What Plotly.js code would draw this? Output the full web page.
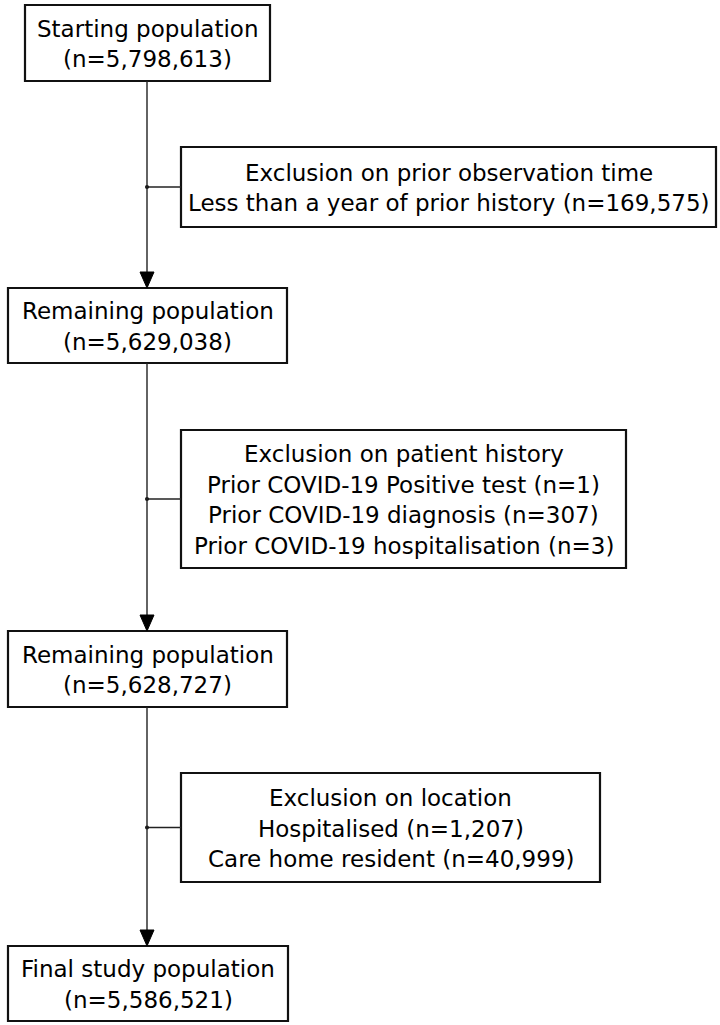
<!DOCTYPE html>
<html>
<head>
<meta charset="utf-8">
<script src="https://cdn.plot.ly/plotly-3.0.1.min.js"></script>
<style>html,body{margin:0;padding:0;background:#fff;}#chart{width:720px;height:1025px;}</style>
</head>
<body>
<div id="chart"></div>
<script>
// ---- data ----
const mainLabels = ["Starting population", "Remaining population", "Remaining population", "Final study population"];
const mainCounts = [5798613, 5629038, 5628727, 5586521];
const exclusionTitles = ["Exclusion on prior observation time", "Exclusion on patient history", "Exclusion on location"];
const exclusionItems = [
  ["Less than a year of prior history"],
  ["Prior COVID-19 Positive test", "Prior COVID-19 diagnosis", "Prior COVID-19 hospitalisation"],
  ["Hospitalised", "Care home resident"]
];
const exclusionCounts = [
  [169575],
  [1, 307, 3],
  [1207, 40999]
];

// ---- layout geometry ----
const fmt = n => n.toLocaleString('en-US');
const mainBoxes = [
  {x0: 25, x1: 270, y0: 5, y1: 81},
  {x0: 8, x1: 287, y0: 288, y1: 363},
  {x0: 8, x1: 287, y0: 631, y1: 707},
  {x0: 8, x1: 288, y0: 946, y1: 1021}
];
const exBoxes = [
  {x0: 181, x1: 716, y0: 147, y1: 227},
  {x0: 181, x1: 626, y0: 430, y1: 568},
  {x0: 181, x1: 600, y0: 773, y1: 882}
];
const spineX = 147;
const lineH = 30.5;
const FONT = {family: "Tahoma, Verdana, 'DejaVu Sans', sans-serif", size: 23, color: '#000'};
const shapes = [];
const annotations = [];

function addText(lines, box) {
  const cx = (box.x0 + box.x1) / 2;
  const cy = (box.y0 + box.y1) / 2 + 1;
  const n = lines.length;
  lines.forEach((t, i) => {
    annotations.push({
      x: cx, y: cy + (i - (n - 1) / 2) * lineH, xref: 'x', yref: 'y',
      text: t, showarrow: false, font: FONT, xanchor: 'center', yanchor: 'middle'
    });
  });
}
function addBox(b) {
  shapes.push({type: 'rect', xref: 'x', yref: 'y', x0: b.x0, x1: b.x1, y0: b.y0, y1: b.y1,
    line: {color: '#111', width: 2.2}, fillcolor: 'rgba(0,0,0,0)'});
}

mainLabels.forEach((lab, i) => {
  const b = mainBoxes[i];
  addBox(b);
  addText([lab, '(n=' + fmt(mainCounts[i]) + ')'], b);
});

exclusionTitles.forEach((title, i) => {
  const b = exBoxes[i];
  addBox(b);
  const lines = [title].concat(exclusionItems[i].map((it, j) => it + ' (n=' + fmt(exclusionCounts[i][j]) + ')'));
  addText(lines, b);
  // connector
  const cy = (b.y0 + b.y1) / 2;
  shapes.push({type: 'line', xref: 'x', yref: 'y', x0: spineX, x1: b.x0, y0: cy, y1: cy,
    line: {color: '#222', width: 1.4}});
  shapes.push({type: 'circle', xref: 'x', yref: 'y', x0: spineX - 2, x1: spineX + 2, y0: cy - 2, y1: cy + 2,
    fillcolor: '#111', line: {width: 0}});
});

// vertical flow lines with arrowheads
for (let i = 0; i < mainBoxes.length - 1; i++) {
  const yStart = mainBoxes[i].y1;
  const yTip = mainBoxes[i + 1].y0;
  shapes.push({type: 'line', xref: 'x', yref: 'y', x0: spineX, x1: spineX, y0: yStart, y1: yTip - 12,
    line: {color: '#222', width: 1.4}});
  shapes.push({type: 'path', xref: 'x', yref: 'y',
    path: `M ${spineX - 7} ${yTip - 16} L ${spineX + 7} ${yTip - 16} L ${spineX} ${yTip} Z`,
    fillcolor: '#000', line: {color: '#000', width: 1}});
}

const layout = {
  width: 720, height: 1025,
  margin: {l: 0, r: 0, t: 0, b: 0},
  paper_bgcolor: '#fff', plot_bgcolor: '#fff',
  xaxis: {range: [0, 720], visible: false, fixedrange: true},
  yaxis: {range: [1025, 0], visible: false, fixedrange: true},
  shapes: shapes, annotations: annotations, showlegend: false
};
Plotly.newPlot('chart', [], layout, {staticPlot: true, displayModeBar: false});
</script>
</body>
</html>
